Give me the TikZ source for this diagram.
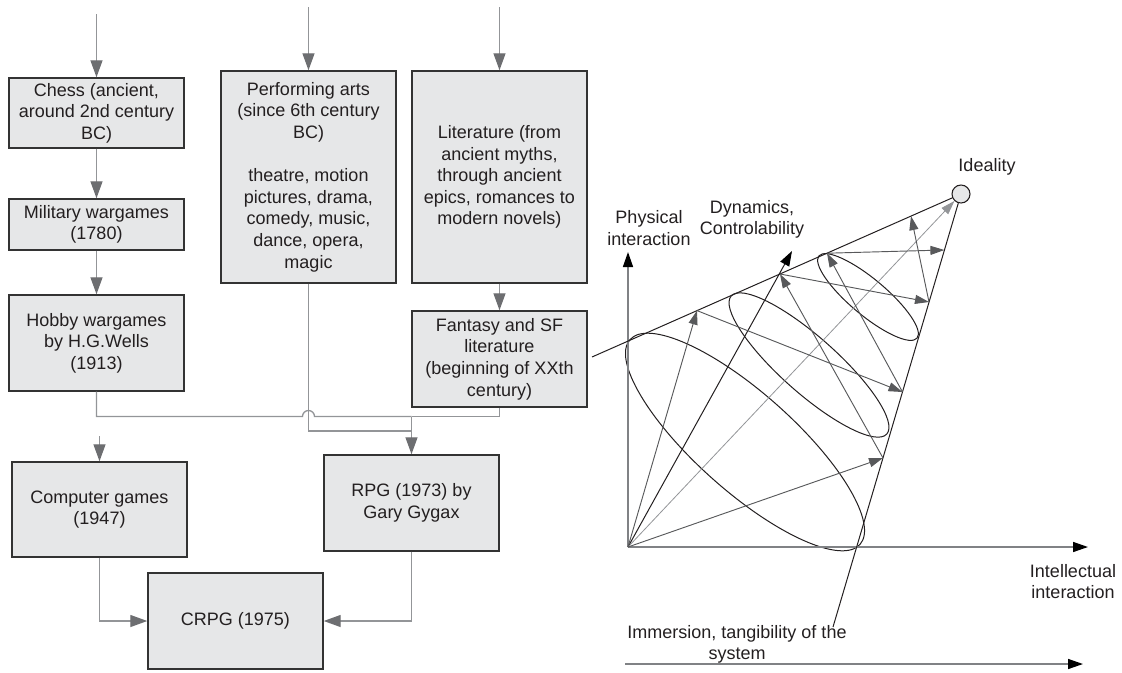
\documentclass[tikz,border=0pt]{standalone}
\usepackage{fontspec}
\setmainfont{Liberation Sans}
\usetikzlibrary{arrows.meta}
\definecolor{boxfill}{HTML}{E6E7E8}
\definecolor{boxdraw}{HTML}{333333}
\definecolor{lineg}{HTML}{939598}
\definecolor{headg}{HTML}{6D6E71}
\definecolor{textc}{HTML}{231F20}
\definecolor{conec}{HTML}{231F20}
\definecolor{zigc}{HTML}{58595B}
\definecolor{axisc}{HTML}{808285}
\definecolor{idealc}{HTML}{939598}
\begin{document}
\begin{tikzpicture}[x=0.75pt,y=-0.75pt,
  every node/.style={text=textc,font=\fontsize{13.5}{16.2}\selectfont},
  box/.style={draw=boxdraw,fill=boxfill,line width=1.1pt,align=center,inner sep=0pt,minimum width=131.25pt},
  conn/.style={draw=lineg,line width=1pt},
  arr/.style={conn,-{Triangle[length=12.75pt,width=9pt,color=headg]}},
  cone/.style={draw=conec,line width=0.75pt},
  zig/.style={draw=zigc,line width=0.7pt,-{Triangle[length=10.5pt,width=6.75pt,color=zigc]}},
  idealarr/.style={draw=idealc,line width=0.6pt,-{Triangle[length=10.5pt,width=6.75pt,color=idealc]}},
  axis/.style={draw=axisc,line width=1.1pt,-{Triangle[length=11.25pt,width=7.5pt,color=black]}},
  lab/.style={align=center,inner sep=0pt}
]
\useasboundingbox (0,0) rectangle (1122,672);

% ---------- left flow chart ----------
\node[box,minimum height=52.5pt] (chess) at (96.5,113) {Chess (ancient,\\around 2nd century\\BC)};
\node[box,minimum height=38.25pt] (military) at (96.5,224.5) {Military wargames\\(1780)};
\node[box,minimum height=72pt] (hobby) at (96.5,343) {Hobby wargames\\by H.G.Wells\\(1913)};
\node[box,minimum height=159pt] (perf) at (308.5,177) {Performing arts\\(since 6th century\\BC)\\[16.2pt]theatre, motion\\pictures, drama,\\comedy, music,\\dance, opera,\\magic};
\node[box,minimum height=159pt] (lit) at (499.5,177) {Literature (from\\ancient myths,\\through ancient\\epics, romances to\\modern novels)};
\node[box,minimum height=72pt] (fantasy) at (499.5,359) {Fantasy and SF\\literature\\(beginning of XXth\\century)};
\node[box,minimum height=71.25pt] (comp) at (99.5,509.5) {Computer games\\(1947)};
\node[box,minimum height=72pt] (rpg) at (411.5,503) {RPG (1973) by\\Gary Gygax};
\node[box,minimum height=72pt] (crpg) at (235.5,621) {CRPG (1975)};

\coordinate (c0) at (96.5,14);
\coordinate (p0) at (308.5,7);
\coordinate (l0) at (499.5,7);
\coordinate (g0) at (99.5,436);
\coordinate (jn) at (411.5,416.5);
\coordinate (jp) at (411.5,431);

\draw[arr] (c0) -- (chess.north);
\draw[arr] (chess) -- (military);
\draw[arr] (military) -- (hobby);
\draw[arr] (p0) -- (perf.north);
\draw[arr] (l0) -- (lit.north);
\draw[arr] (lit) -- (fantasy);
\draw[conn] (hobby.south) |- (302.5,416.5) arc[start angle=180,end angle=0,radius=4.5pt] -- (jn);
\draw[conn] (fantasy.south) |- (jn);
\draw[conn] (perf.south) |- (jp);
\draw[arr] (jn) -- (rpg.north);
\draw[arr] (g0) -- (comp.north);
\draw[arr] (comp.south) |- (crpg.west);
\draw[arr] (rpg.south) |- (crpg.east);

% ---------- right cone diagram ----------
\coordinate (O) at (628,547);
\node[circle,draw=conec,fill=boxfill,line width=0.8pt,minimum size=13.5pt,inner sep=0pt] (ideal) at (961,194) {};
\node[lab] (lideal) at (987,167) {Ideality};

\coordinate (yend) at (628,252);
\coordinate (xend) at (1088,547);
\coordinate (b0) at (625,664);
\coordinate (b1) at (1083,664);
\coordinate (dyn) at (792,251);
\coordinate (u0) at (592,357);
\coordinate (imm) at (833,627);

\coordinate (P1) at (697,310.6);
\coordinate (P2) at (780,274);
\coordinate (P3) at (827,253.2);
\coordinate (P4) at (911,216.1);
\coordinate (Q1) at (883,458);
\coordinate (Q2) at (902.5,392);
\coordinate (Q3) at (929,302);
\coordinate (Q4) at (944.4,250);

% ellipses
\draw[cone,rotate around={-41.7:(745,442)}] (745,442) ellipse [x radius=115.5pt,y radius=36.75pt];
\draw[cone,rotate around={-41.6:(809,365)}] (809,365) ellipse [x radius=78pt,y radius=21pt];
\draw[cone,rotate around={-40:(868,297)}] (868,297) ellipse [x radius=48pt,y radius=13.5pt];

\draw[axis] (O) -- (yend);
\draw[axis] (O) -- (xend);
\draw[axis] (b0) -- (b1);
\draw[cone,-{Triangle[length=11.25pt,width=7.5pt,color=black]}] (O) -- (dyn);
\draw[cone] (u0) -- (ideal);
\draw[cone] (imm) -- (ideal);

\draw[idealarr] (O) -- (ideal);
\draw[zig] (O) -- (P1);
\draw[zig] (P1) -- (Q2);
\draw[zig] (Q2) -- (P3);
\draw[zig] (P3) -- (Q4);
\draw[zig] (O) -- (Q1);
\draw[zig] (Q1) -- (P2);
\draw[zig] (P2) -- (Q3);
\draw[zig] (Q3) -- (P4);

\node[lab] (lphys) at (649,228) {Physical\\interaction};
\node[lab] (ldyn) at (752,219.5) {Dynamics,\\Controlability};
\node[lab] (lint) at (1073,581.5) {Intellectual\\interaction};
\node[lab] (limm) at (737,644.5) {Immersion, tangibility of the\\system};
\end{tikzpicture}
\end{document}
